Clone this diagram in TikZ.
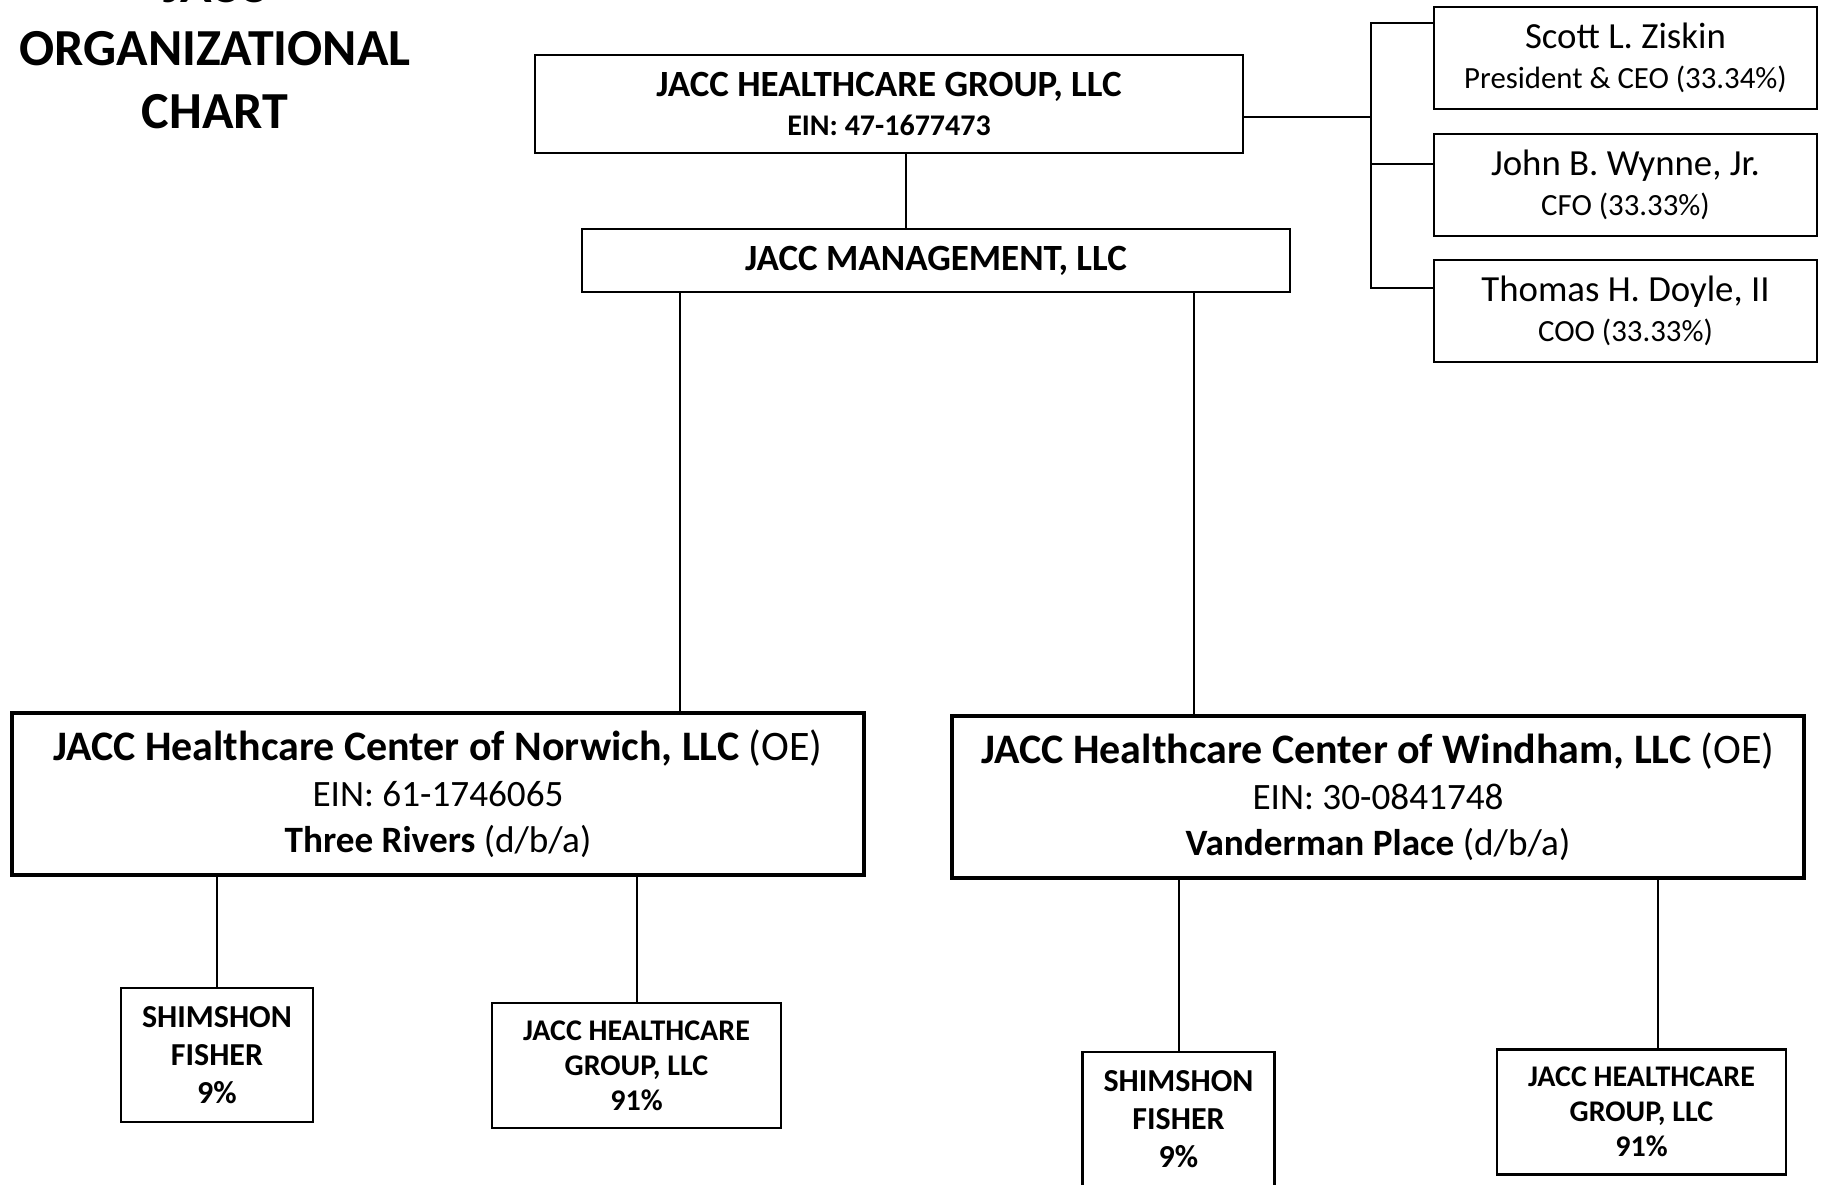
\documentclass[tikz,border=0pt]{standalone}
\usepackage{fontspec}
\setmainfont{Carlito}
\usepackage{tikz}
\usetikzlibrary{positioning}

\begin{document}
\begin{tikzpicture}[x=0.5pt,y=-0.5pt, box/.style={draw,line width=1.1pt,align=center,inner sep=0pt,font=\bfseries}, bigbox/.style={box,line width=1.6pt}, person/.style={box,minimum width=191.5pt,minimum height=51pt,font=\fontsize{15.4}{20}\selectfont}, site/.style={bigbox,minimum width=426pt,minimum height=81pt,font=\fontsize{18.6}{23}\selectfont}, owner/.style={box,minimum width=96pt,minimum height=67pt,font=\bfseries\fontsize{16}{19}\selectfont}, parent/.style={box,minimum width=144.5pt,minimum height=62.5pt,font=\bfseries\fontsize{15}{17.5}\selectfont}, link/.style={line width=1pt}]
\useasboundingbox (0,0) rectangle (1823,1184);
\node[align=center,font=\bfseries\fontsize{26}{31.5}\selectfont] (title) at (215,49) {JACC\\ORGANIZATIONAL\\CHART};
\node[box,minimum width=354pt,minimum height=49pt,font=\bfseries\fontsize{15}{19.5}\selectfont] (group) at (889,104) {{\fontsize{18.5}{19.5}\selectfont JACC HEALTHCARE GROUP, LLC}\\EIN: 47-1677473};
\node[box,minimum width=354pt,minimum height=31.5pt,font=\bfseries\fontsize{18.5}{22}\selectfont] (mgmt) at (936,260.5) {JACC MANAGEMENT, LLC};
\node[person] (ceo) at (1625.5,58) {{\fontsize{18.4}{20}\selectfont Scott L. Ziskin}\\President \& CEO (33.34\%)};
\node[person] (cfo) at (1625.5,185) {{\fontsize{18.4}{20}\selectfont John B. Wynne, Jr.}\\CFO (33.33\%)};
\node[person] (coo) at (1625.5,311) {{\fontsize{18.4}{20}\selectfont Thomas H. Doyle, II}\\COO (33.33\%)};
\node[site] (norwich) at (438,794) {{\fontsize{21}{23}\selectfont\textbf{JACC Healthcare Center of Norwich, LLC} (OE)}\\EIN: 61-1746065\\\textbf{Three Rivers} (d/b/a)};
\node[site] (windham) at (1378,797) {{\fontsize{21}{23}\selectfont\textbf{JACC Healthcare Center of Windham, LLC} (OE)}\\EIN: 30-0841748\\\textbf{Vanderman Place} (d/b/a)};
\node[owner] (shimA) at (217,1055) {SHIMSHON\\FISHER\\9\%};
\node[parent] (parentA) at (636.5,1065.5) {JACC HEALTHCARE\\GROUP, LLC\\91\%};
\node[owner] (shimB) at (1178.5,1119) {SHIMSHON\\FISHER\\9\%};
\node[parent] (parentB) at (1641.5,1112) {JACC HEALTHCARE\\GROUP, LLC\\91\%};
\coordinate (hub) at (1371,117);
\coordinate (hubA) at (1371,23);
\coordinate (hubB) at (1371,164);
\coordinate (hubC) at (1371,288);
\draw[link] ([xshift=8.5pt]group.south) -- ([xshift=8.5pt]group.south |- mgmt.north);
\draw[link] (group.east |- hub) -- (hub);
\draw[link] (hubA -| ceo.west) -- (hubA) -- (hubC) -- (hubC -| coo.west); \draw[link] (hubB) -- (hubB -| cfo.west);
\draw[link] ([xshift=121pt]norwich.north) -- ([xshift=121pt]norwich.north |- mgmt.south);
\draw[link] ([xshift=-92pt]windham.north) -- ([xshift=-92pt]windham.north |- mgmt.south);
\draw[link] (shimA.north) -- (shimA.north |- norwich.south); \draw[link] (parentA.north) -- (parentA.north |- norwich.south);
\draw[link] (shimB.north) -- (shimB.north |- windham.south); \draw[link] ([xshift=8pt]parentB.north) -- ([xshift=8pt]parentB.north |- windham.south);
\end{tikzpicture}
\end{document}
